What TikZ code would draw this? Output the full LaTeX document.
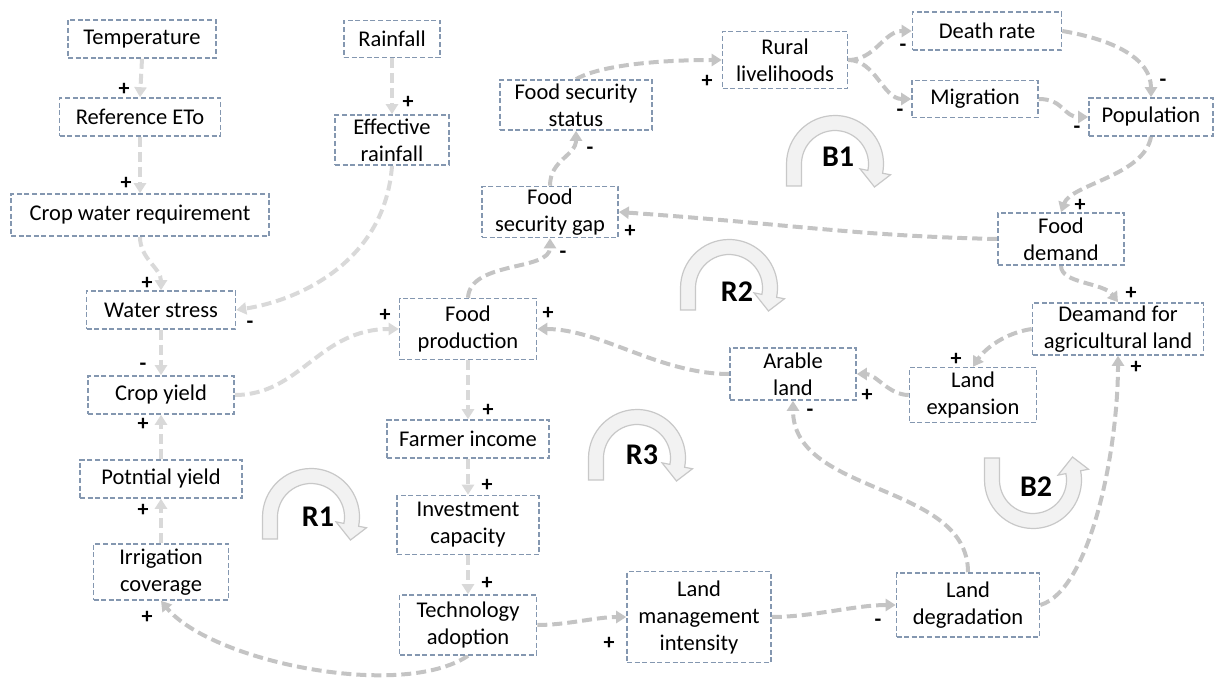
\documentclass[tikz,border=0pt]{standalone}
\usepackage{fontspec}
\setmainfont{Carlito}
\usetikzlibrary{arrows.meta,backgrounds}
\definecolor{boxline}{HTML}{8497B0}
\definecolor{linkgray}{HTML}{C4C4C4}
\definecolor{linklight}{HTML}{D9D9D9}
\definecolor{loopfill}{HTML}{F2F2F2}
\definecolor{loopedge}{HTML}{C8C8C8}
\tikzset{
  box/.style={draw=boxline, line width=0.8pt, dash pattern=on 2.5pt off 1.3pt,
    fill=white, inner sep=0pt, align=center, font=\fontsize{11.25}{13.5}\selectfont},
  boxsize/.style 2 args={minimum width=#1*0.5pt, minimum height=#2*0.5pt},
  link/.style={draw=linkgray, line width=2pt, dash pattern=on 5pt off 2.5pt,
    -{Triangle[length=5pt,width=6pt]}},
  lightlink/.style={link, draw=linklight},
  sign/.style={font=\fontsize{11}{13}\selectfont\bfseries, inner sep=0pt},
  loopsym/.style={fill=loopfill, draw=loopedge, line width=0.6pt},
  looplabel/.style={font=\fontsize{15}{18}\selectfont\bfseries, inner sep=0pt}
}
% loop marker: x, y, 1 for a U shape or -1 for an arch
\newcommand{\loopmark}[3]{%
  \begin{scope}[shift={(#1,#2)}, yscale=#3]
    \filldraw[loopsym] (-48.5,-22) -- (180:48.5)
      arc[start angle=180, end angle=-11, radius=48.5]
      -- (-11:56.5) -- (39.5,-23) -- (-11:25.5) -- (-11:33.5)
      arc[start angle=-11, end angle=180, radius=33.5]
      -- (-33.5,-22) -- cycle;
  \end{scope}}
\begin{document}
\begin{tikzpicture}[x=0.5pt, y=-0.5pt]
  \useasboundingbox (0,0) rectangle (1214,678);

  % variables
  \node[box, boxsize={148}{38}] (temp) at (142,39) {Temperature};
  \node[box, boxsize={161}{38}] (refeto) at (140,117) {Reference ETo};
  \node[box, boxsize={258}{42}] (cwr) at (140,215) {Crop water requirement};
  \node[box, boxsize={149}{38}] (wstress) at (161,310) {Water stress};
  \node[box, boxsize={146}{38}] (cyield) at (161,395) {Crop yield};
  \node[box, boxsize={162}{38}] (pyield) at (161,479) {Potntial yield};
  \node[box, boxsize={135}{56}] (irrig) at (161,572) {Irrigation\\coverage};
  \node[box, boxsize={96}{37}] (rain) at (392,39) {Rainfall};
  \node[box, boxsize={114}{50}] (effrain) at (392,140) {Effective\\rainfall};
  \node[box, boxsize={152}{50}] (fstatus) at (576,105) {Food security\\status};
  \node[box, boxsize={125}{57}] (rural) at (785,60) {Rural\\livelihoods};
  \node[box, boxsize={149}{38}] (death) at (987,31) {Death rate};
  \node[box, boxsize={126}{37}] (migr) at (975,99) {Migration};
  \node[box, boxsize={124}{38}] (pop) at (1151,117) {Population};
  \node[box, boxsize={136}{51}] (fgap) at (550,212) {Food\\security gap};
  \node[box, boxsize={126}{52}] (fdemand) at (1061,239) {Food\\demand};
  \node[box, boxsize={171}{52}] (dagri) at (1118,329) {Deamand for\\agricultural land};
  \node[box, boxsize={137}{61}] (fprod) at (468,329) {Food\\production};
  \node[box, boxsize={126}{52}] (arable) at (793,374) {Arable\\land};
  \node[box, boxsize={127}{55}] (lexp) at (973,395) {Land\\expansion};
  \node[box, boxsize={162}{38}] (fincome) at (468,439) {Farmer income};
  \node[box, boxsize={142}{59}] (invest) at (468,525) {Investment\\capacity};
  \node[box, boxsize={137}{60}] (tech) at (468,625) {Technology\\adoption};
  \node[box, boxsize={144}{91}] (lmi) at (699,617) {Land\\management\\intensity};
  \node[box, boxsize={143}{64}] (ldeg) at (968,605) {Land\\degradation};

  \begin{scope}[on background layer]
    % loop markers
    \loopmark{311}{517}{-1}
    \loopmark{729}{288}{-1}
    \loopmark{637}{458}{-1}
    \loopmark{835}{164}{-1}
    \loopmark{1033}{480}{1}

    % links
    \draw[lightlink] (temp.south) -- (refeto.north);
    \draw[lightlink] (refeto.south) -- (cwr.north);
    \draw[lightlink] (cwr.south) to[out=-90, in=90] (wstress.north);
    \draw[lightlink] (rain.south) -- (effrain.north);
    \draw[lightlink] (effrain.south) .. controls +(-7,95) and +(64,-10) .. (wstress.east);
    \draw[lightlink] (wstress.south) -- (cyield.north);
    \draw[lightlink] (pyield.north) -- (cyield.south);
    \draw[lightlink] (irrig.north) -- (pyield.south);
    \draw[lightlink] (cyield.east) .. controls +(66,0) and +(-80,0) .. (fprod.west);
    \draw[lightlink] (fprod.south) -- (fincome.north);
    \draw[lightlink] (fincome.south) -- (invest.north);
    \draw[lightlink] (invest.south) -- (tech.north);
    \draw[link] (tech.south) .. controls +(-68,45) and +(49,60) .. (irrig.south);
    \draw[link] (fprod.north) .. controls +(2,-37) and +(0,33) .. (fgap.south);
    \draw[link] (fgap.north) .. controls +(0,-26) and +(0,25) .. (fstatus.south);
    \draw[link] (fstatus.north) .. controls +(24,-14) and +(-63,0) .. (rural.west);
    \draw[link] (rural.east) .. controls +(27,0) and +(-28,0) .. (death.west);
    \draw[link] (rural.east) .. controls +(27,0) and +(-28,0) .. (migr.west);
    \draw[link] (death.east) .. controls +(53,9) and +(0,-38) .. (pop.north);
    \draw[link] (migr.east) .. controls +(25,0) and +(-25,0) .. (pop.west);
    \draw[link] (pop.south) .. controls +(-7,39) and +(10,-28) .. (fdemand.north);
    \draw[link] (fdemand.west) .. controls +(-140,-3) and +(170,12) .. (fgap.east);
    \draw[link] (fdemand.south) .. controls +(0,18) and +(-15,-20) .. (dagri.north);
    \draw[link] (dagri.west) .. controls +(-27,4) and +(12,-18) .. (lexp.north);
    \draw[link] (lexp.west) .. controls +(-20,0) and +(19,0) .. (arable.east);
    \draw[link] (arable.west) .. controls +(-70,0) and +(63,0) .. (fprod.east);
    \draw[link] (ldeg.north) .. controls +(0,-90) and +(0,95) .. (arable.south);
    \draw[link] (ldeg.east) .. controls +(50,-15) and +(0,95) .. (dagri.south);
    \draw[link] (lmi.east) .. controls +(40,0) and +(-40,0) .. (ldeg.west);
    \draw[link] (tech.east) .. controls +(30,0) and +(-30,0) .. (lmi.west);
  \end{scope}

  \node[looplabel] (lr1) at (318,517) {R1};
  \node[looplabel] (lr2) at (737,292) {R2};
  \node[looplabel] (lr3) at (642,455) {R3};
  \node[looplabel] (lb1) at (838,157) {B1};
  \node[looplabel] (lb2) at (1036,487) {B2};

  % polarities
  \foreach \x/\y/\s [count=\i] in {124/89/+, 126/183/+, 147/283/+, 250/325/-,
    408/102/+, 143/367/-, 143/424/+, 143/510/+, 147/617/+, 385/315/+,
    548/313/+, 563/255/-, 590/151/-, 707/81/+, 903/48/-, 900/113/-,
    1163/83/-, 1077/130/-, 1080/205/+, 630/231/+, 1131/293/+, 956/359/+,
    867/395/+, 810/413/-, 1136/367/+, 878/623/-, 609/643/+, 488/410/+,
    487/485/+, 487/583/+}
    \node[sign] (sg\i) at (\x,\y) {\s};
\end{tikzpicture}
\end{document}
